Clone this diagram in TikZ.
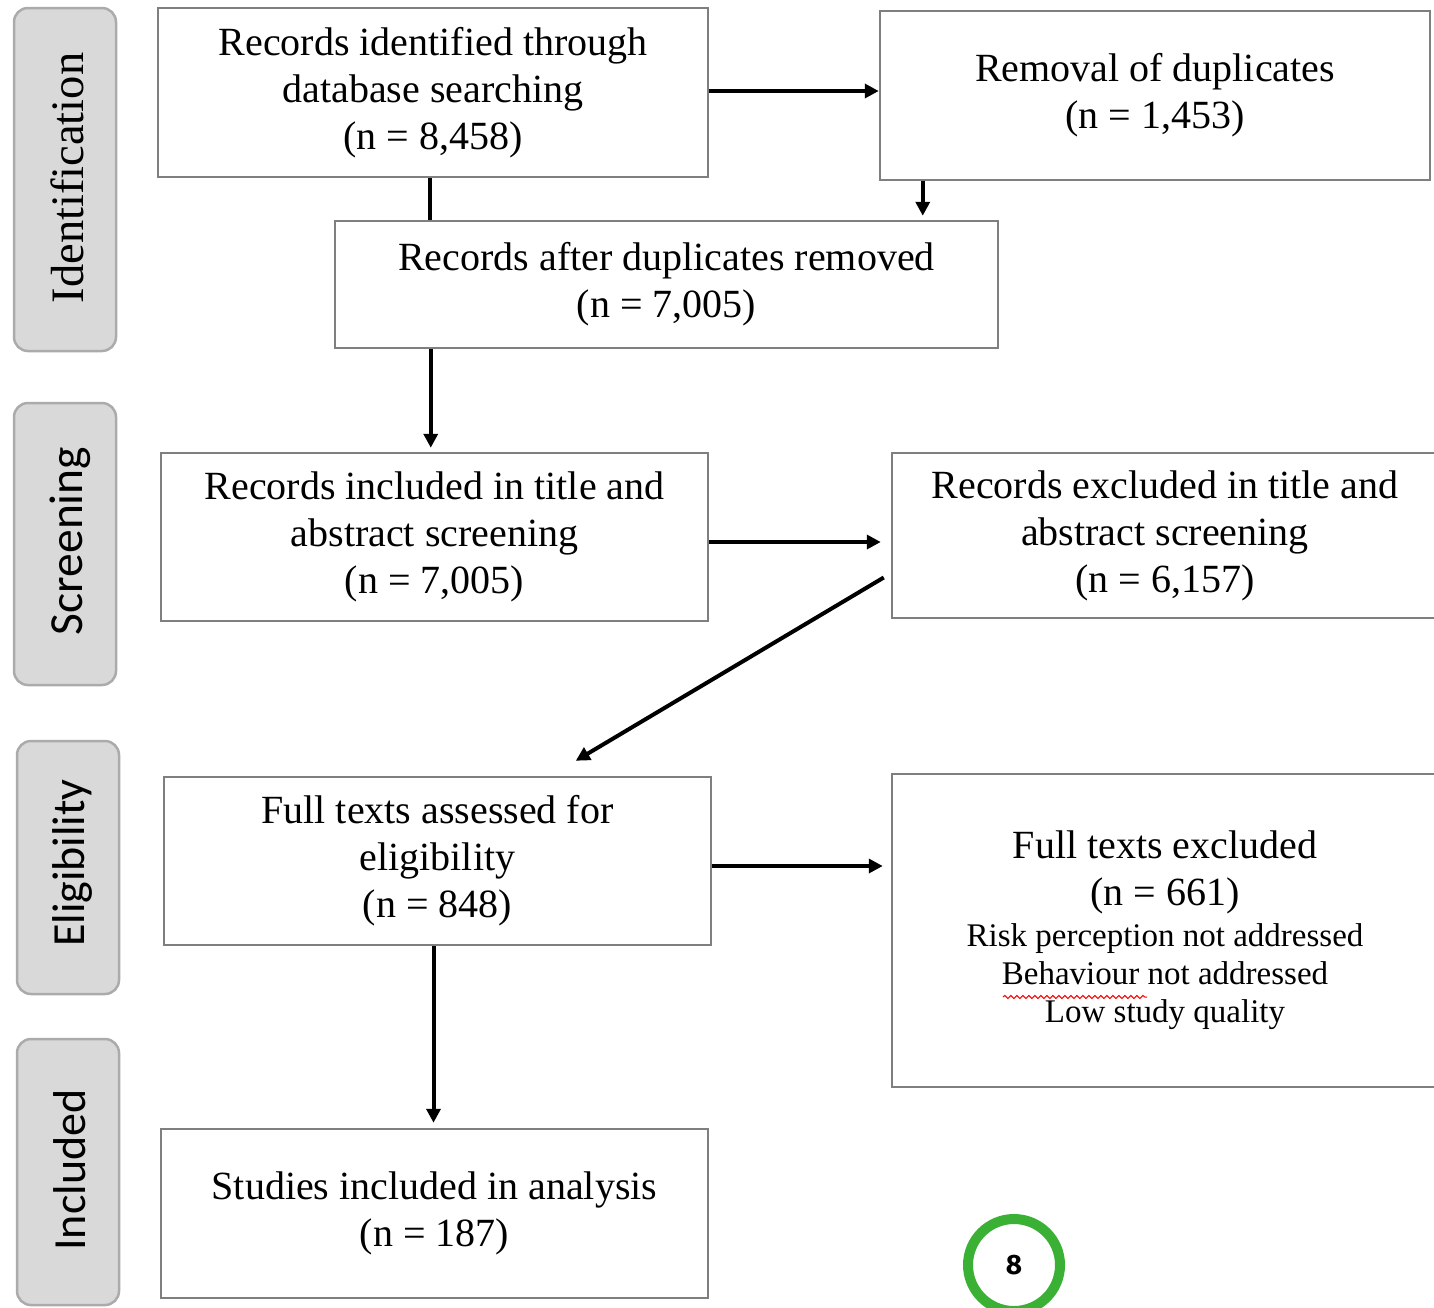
\documentclass[tikz,border=0pt]{standalone}
\usepackage{fontspec}
\setmainfont{Liberation Serif}
\newfontfamily\labsans{Carlito}
\newfontfamily\numsans{Fira Sans}
\usetikzlibrary{arrows.meta,decorations.pathmorphing}
\definecolor{boxgray}{HTML}{7F7F7F}
\definecolor{labfill}{HTML}{D9D9D9}
\definecolor{labline}{HTML}{ABABAB}
\definecolor{ringgreen}{HTML}{3AB034}
\begin{document}
\begin{tikzpicture}[x=1pt,y=-1pt,
  flowbox/.style={draw=boxgray, line width=2.5pt, fill=white, align=center, inner sep=0pt,
    font=\fontsize{40}{47}\selectfont},
  phase/.style={draw=labline, fill=labfill, line width=2.5pt, rounded corners=14pt, inner sep=0pt,
    minimum width=102pt},
  phasetext/.style={rotate=90, inner sep=0pt},
  arr/.style={line width=4pt, -{Triangle[length=14pt,width=14pt]}},
  plainline/.style={line width=4pt}]
\clip (0,0) rectangle (1434,1307);
\useasboundingbox (0,0) rectangle (1434,1307);

% phase labels
\node[phase, minimum height=343pt] (pid) at (65,179.5) {};
\node[phasetext, font=\fontsize{46.5}{50}\selectfont] (tid) at (67,178) {Identification};
\node[phase, minimum height=282pt] (pscr) at (65,544) {};
\node[phasetext, font=\labsans\fontsize{47.5}{50}\selectfont] (tscr) at (70,541) {Screening};
\node[phase, minimum height=253pt] (pel) at (68,867.5) {};
\node[phasetext, font=\labsans\fontsize{46}{50}\selectfont] (tel) at (72,863) {Eligibility};
\node[phase, minimum height=266pt] (pinc) at (68,1172) {};
\node[phasetext, font=\labsans\fontsize{46}{50}\selectfont] (tinc) at (70,1170) {Included};

% boxes
\node[flowbox, minimum width=550pt, minimum height=169pt] (b1) at (433,92.5)
  {Records identified through\\database searching\\(n = 8,458)};
\node[flowbox, minimum width=550pt, minimum height=169pt] (b2) at (1155,95.5)
  {Removal of duplicates\\(n = 1,453)};
\node[flowbox, minimum width=663pt, minimum height=127pt] (b3) at (666.5,284.5)
  {Records after duplicates removed\\(n = 7,005)};
\node[flowbox, minimum width=547pt, minimum height=168pt] (b4) at (434.5,537)
  {Records included in title and\\abstract screening\\(n = 7,005)};
\node[flowbox, minimum width=546pt, minimum height=165pt] (b5) at (1165,535.5)
  {Records excluded in title and\\abstract screening\\(n = 6,157)};
\node[flowbox, minimum width=547pt, minimum height=168pt] (b6) at (437.5,861)
  {Full texts assessed for\\eligibility\\(n = 848)};
\node[flowbox, minimum width=546pt, minimum height=313pt] (b7) at (1165,930.5)
  {Full texts excluded\\(n = 661)\\[-6pt]
   {\fontsize{33}{38}\selectfont Risk perception not addressed}\\[-9pt]
   {\fontsize{33}{38}\selectfont Behaviour not addressed}\\[-9pt]
   {\fontsize{33}{38}\selectfont Low study quality}};
\node[flowbox, minimum width=547pt, minimum height=169pt] (b8) at (434.5,1213.5)
  {Studies included in analysis\\(n = 187)};

% spell-check squiggle
\draw[red, line width=1pt, decorate, decoration={snake, amplitude=1.6pt, segment length=6pt}]
  (1003,997) -- (1147,997);

% connectors
\draw[arr] ([yshift=1.5pt]b1.east) -- ([yshift=1.5pt]b1.east -| b2.west);
\draw[plainline] ([xshift=-3pt]b1.south) -- ([xshift=-3pt]b1.south |- b3.north);
\draw[arr] ([xshift=44pt]b2.south west) -- ([xshift=44pt,yshift=4pt]b2.south west |- b3.north);
\draw[arr] ([xshift=97pt]b3.south west) -- ([xshift=97pt,yshift=4pt]b3.south west |- b4.north);
\draw[arr] ([yshift=-5pt]b4.east) -- ([xshift=-10pt,yshift=-5pt]b4.east -| b5.west);
\draw[arr] ([xshift=-7pt,yshift=-42pt]b5.west) -- ([xshift=413pt,yshift=15pt]b6.north west);
\draw[arr] ([yshift=-5pt]b6.east) -- ([xshift=-8pt,yshift=-5pt]b6.east -| b7.west);
\draw[arr] ([xshift=-4pt]b6.south) -- ([xshift=-4pt,yshift=5pt]b6.south |- b8.north);

% page number ring
\node[circle, draw=ringgreen, line width=10pt, minimum size=92pt, inner sep=0pt,
  font=\numsans\bfseries\fontsize{28}{30}\selectfont] (pg) at (1014,1265) {8};
\end{tikzpicture}
\end{document}
